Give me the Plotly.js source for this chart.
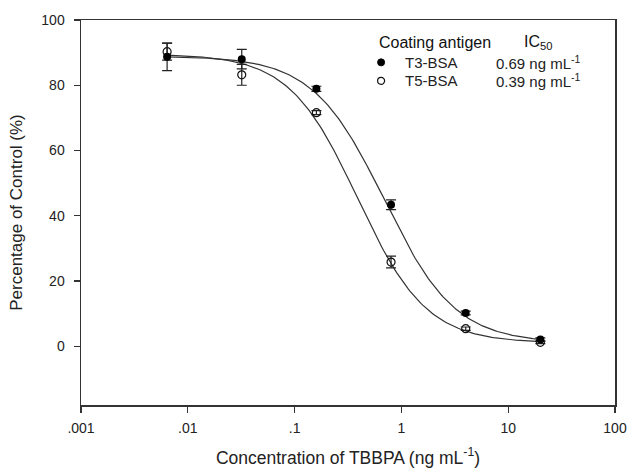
<!DOCTYPE html>
<html>
<head>
<meta charset="utf-8">
<script src="https://cdn.plot.ly/plotly-3.0.1.min.js"></script>
<style>html,body{margin:0;padding:0;background:#fff}#chart{width:629px;height:472px}</style>
</head>
<body>
<div id="chart"></div>
<script>
// Data
var conc = [0.0064, 0.032, 0.16, 0.8, 4, 20];
var t3Values = [88.7, 88.0, 78.9, 43.4, 10.2, 2.1];
var t3Errors = [4.2, 3.0, 0.8, 1.5, 0.6, 0.5];
var t5Values = [90.3, 83.2, 71.6, 25.8, 5.4, 1.2];
var t5Errors = [2.6, 3.2, 0.6, 1.8, 0.5, 0.4];
// four-parameter logistic fit parameters: [top, slope, IC50, bottom]
var t3Fit = [88.9, 1.3, 0.69, 1.0];
var t5Fit = [89.6, 1.35, 0.39, 1.0];
var xTickVals = [0.001, 0.01, 0.1, 1, 10, 100];
var xTickText = ['.001', '.01', '.1', '1', '10', '100'];
var yTickVals = [0, 20, 40, 60, 80, 100];

function fitCurve(p) {
  var xs = [], ys = [];
  var lo = Math.log10(conc[0]), hi = Math.log10(conc[conc.length - 1]);
  for (var i = 0; i <= 200; i++) {
    var x = Math.pow(10, lo + (hi - lo) * i / 200);
    xs.push(x);
    ys.push(p[3] + (p[0] - p[3]) / (1 + Math.pow(x / p[2], p[1])));
  }
  return {x: xs, y: ys};
}
var c3 = fitCurve(t3Fit), c5 = fitCurve(t5Fit);
var lineStyle = {color: '#333', width: 1.2};
var traces = [
  {x: c3.x, y: c3.y, mode: 'lines', line: lineStyle, hoverinfo: 'skip'},
  {x: c5.x, y: c5.y, mode: 'lines', line: lineStyle, hoverinfo: 'skip'},
  {x: conc, y: t5Values, mode: 'markers',
   error_y: {type: 'data', array: t5Errors, color: '#222', thickness: 1.2, width: 5},
   marker: {symbol: 'circle-open', size: 8, color: '#111', line: {width: 1.2, color: '#111'}}},
  {x: conc, y: t3Values, mode: 'markers',
   error_y: {type: 'data', array: t3Errors, color: '#222', thickness: 1.2, width: 5},
   marker: {symbol: 'circle', size: 8, color: '#000'}}
];
var fam = 'Liberation Sans, Arial, sans-serif';
var layout = {
  width: 629, height: 472,
  margin: {l: 81, r: 14, t: 20, b: 67},
  showlegend: false,
  paper_bgcolor: '#fff', plot_bgcolor: '#fff',
  font: {family: fam, size: 14, color: '#222'},
  xaxis: {
    type: 'log', range: [-3, 2], tickvals: xTickVals, ticktext: xTickText,
    ticks: 'outside', ticklen: 6, tickwidth: 1.2, tickcolor: '#333',
    showline: true, linecolor: '#333', linewidth: 1.5, mirror: true,
    showgrid: false, zeroline: false, ticklabelstandoff: 4,
    tickfont: {family: fam, size: 14, color: '#222'},
    title: {text: 'Concentration of TBBPA (ng mL<sup>-1</sup>)', font: {family: fam, size: 17.5, color: '#222'}, standoff: 16}
  },
  yaxis: {
    range: [-18, 100], tickvals: yTickVals,
    ticks: 'outside', ticklen: 6, tickwidth: 1.2, tickcolor: '#333',
    showline: true, linecolor: '#333', linewidth: 1.5, mirror: true,
    showgrid: false, zeroline: false, ticklabelstandoff: 6,
    tickfont: {family: fam, size: 14, color: '#222'},
    title: {text: 'Percentage of Control (%)', font: {family: fam, size: 17, color: '#222'}, standoff: 14}
  },
  annotations: [
    {xref: 'paper', yref: 'paper', x: 0.555, y: 0.942, xanchor: 'left', yanchor: 'middle', showarrow: false,
     text: 'Coating antigen', font: {family: fam, size: 16, color: '#111'}},
    {xref: 'paper', yref: 'paper', x: 0.825, y: 0.942, xanchor: 'left', yanchor: 'middle', showarrow: false,
     text: 'IC<sub>50</sub>', font: {family: fam, size: 16, color: '#111'}},
    {xref: 'paper', yref: 'paper', x: 0.603, y: 0.89, xanchor: 'left', yanchor: 'middle', showarrow: false,
     text: 'T3-BSA', font: {family: fam, size: 15, color: '#222'}},
    {xref: 'paper', yref: 'paper', x: 0.603, y: 0.842, xanchor: 'left', yanchor: 'middle', showarrow: false,
     text: 'T5-BSA', font: {family: fam, size: 15, color: '#222'}},
    {xref: 'paper', yref: 'paper', x: 0.773, y: 0.89, xanchor: 'left', yanchor: 'middle', showarrow: false,
     text: '0.69 ng mL<sup>-1</sup>', font: {family: fam, size: 15, color: '#222'}},
    {xref: 'paper', yref: 'paper', x: 0.773, y: 0.842, xanchor: 'left', yanchor: 'middle', showarrow: false,
     text: '0.39 ng mL<sup>-1</sup>', font: {family: fam, size: 15, color: '#222'}}
  ],
  shapes: [
    {type: 'circle', xref: 'paper', yref: 'paper', xsizemode: 'pixel', ysizemode: 'pixel',
     xanchor: 0.562, yanchor: 0.89, x0: -3.5, x1: 3.5, y0: -3.5, y1: 3.5,
     fillcolor: '#000', line: {color: '#000', width: 1}},
    {type: 'circle', xref: 'paper', yref: 'paper', xsizemode: 'pixel', ysizemode: 'pixel',
     xanchor: 0.562, yanchor: 0.842, x0: -3.5, x1: 3.5, y0: -3.5, y1: 3.5,
     fillcolor: '#fff', line: {color: '#111', width: 1.2}}
  ]
};
Plotly.newPlot('chart', traces, layout, {displayModeBar: false, staticPlot: true});
</script>
</body>
</html>
